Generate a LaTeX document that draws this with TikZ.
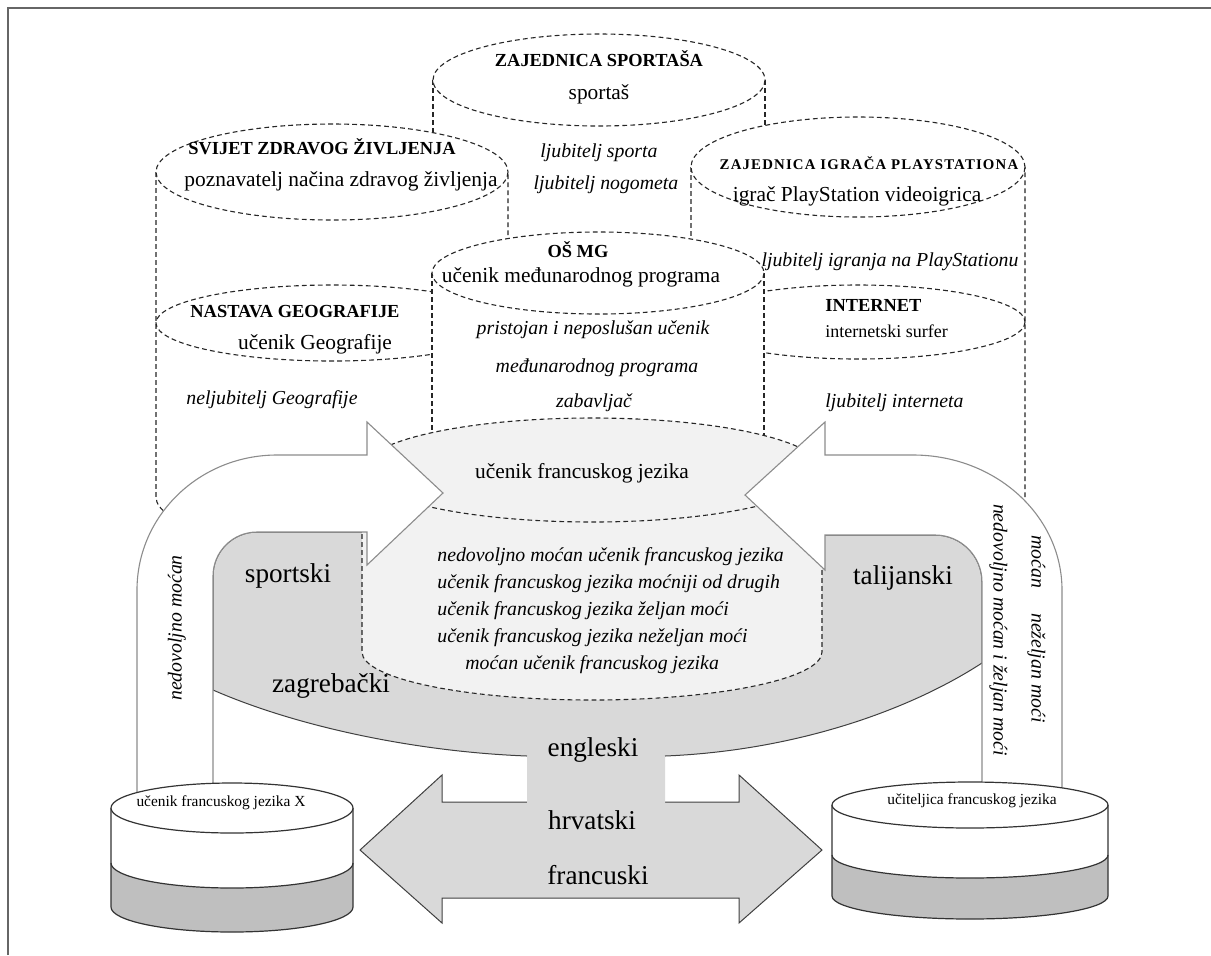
\documentclass[tikz,border=0pt]{standalone}
\usepackage{fontspec}
\setmainfont{Liberation Serif}
\newfontfamily\psfont[LetterSpace=8]{Liberation Serif}
\definecolor{lgray}{HTML}{F2F2F2}
\definecolor{mgray}{HTML}{D9D9D9}
\definecolor{dgray}{HTML}{BFBFBF}
\definecolor{agray}{HTML}{8C8C8C}
\definecolor{sgray}{HTML}{404040}
\begin{document}
\begin{tikzpicture}[x=0.5pt,y=-0.5pt,
  dsh/.style={draw=black!85, line width=0.55pt, dash pattern=on 2.4pt off 1.6pt},
  framec/.style={draw=black!60, line width=0.7pt},
  arrowst/.style={fill=white, draw=agray, line width=0.55pt},
  cylst/.style={draw=black!80, line width=0.6pt},
  txt/.style={inner sep=0pt, text height=0.7em, text depth=0.25em},
  tb/.style={txt, font=\fontsize{9.2}{11}\selectfont\bfseries},
  tr/.style={txt, font=\fontsize{10.7}{13}\selectfont},
  trs/.style={txt, font=\fontsize{9}{11}\selectfont},
  ti/.style={txt, font=\fontsize{9.9}{12}\selectfont\itshape},
  tbig/.style={txt, font=\fontsize{13.6}{16}\selectfont},
  tsmall/.style={txt, font=\fontsize{7.7}{9}\selectfont},
  tps/.style={txt, font={\fontsize{7.4}{9}\psfont\bfseries}}]
\useasboundingbox (0,0) rectangle (1211,955);
% frame
\draw[framec] (8,955) -- (8,8) -- (1211,8);
% top cylinder ZAJEDNICA SPORTASA
\fill[white] (433,80) -- (433,250) -- (765,250) -- (765,80) -- cycle;
\draw[dsh] (433,80) -- (433,250) (765,80) -- (765,250);
\draw[dsh, fill=white] (599,80) ellipse [x radius=166, y radius=46];
% left tall cylinder
\fill[white] (156,172) -- (156,497) arc[start angle=180, end angle=0, x radius=176, y radius=48] -- (508,172) -- cycle;
\draw[dsh] (156,172) -- (156,497) arc[start angle=180, end angle=0, x radius=176, y radius=48] -- (508,172);
\draw[dsh, fill=white] (332,172) ellipse [x radius=176, y radius=48];
\draw[dsh] (332,323) ellipse [x radius=176, y radius=38];
% right tall cylinder
\fill[white] (691,167) -- (691,497) arc[start angle=180, end angle=0, x radius=167, y radius=50] -- (1025,167) -- cycle;
\draw[dsh] (691,167) -- (691,497) arc[start angle=180, end angle=0, x radius=167, y radius=50] -- (1025,167);
\draw[dsh, fill=white] (858,167) ellipse [x radius=167, y radius=50];
\draw[dsh] (858,322) ellipse [x radius=167, y radius=37];
% OS MG cylinder
\fill[white] (432,273) -- (432,480) -- (764,480) -- (764,273) -- cycle;
\draw[dsh] (432,273) -- (432,480) (764,273) -- (764,480);
\draw[dsh, fill=white] (598,273) ellipse [x radius=166, y radius=41];
% double arrow
\draw[fill=mgray, draw=sgray, line width=0.5pt] (360,850) -- (442,775) -- (442,802) -- (739,802) -- (739,775) -- (822,850) -- (739,923) -- (739,898) -- (442,898) -- (442,923) -- cycle;
% gray bowl shape
\fill[mgray] (367,532) -- (257,532) arc[start angle=270, end angle=180, radius=44] -- (213,690) .. controls (300,728) and (420,752) .. (527,756) -- (527,804) -- (665,804) -- (665,756) .. controls (790,751) and (905,713) .. (982,663) -- (982,582) arc[start angle=0, end angle=-90, radius=47] -- (825,535) -- (825,470) -- (360,470) -- (360,532) -- cycle;
\draw[sgray, line width=0.5pt] (367,532) -- (257,532) arc[start angle=270, end angle=180, radius=44] -- (213,690) .. controls (300,728) and (420,752) .. (527,756);
\draw[sgray, line width=0.5pt] (665,756) .. controls (790,751) and (905,713) .. (982,663) -- (982,582) arc[start angle=0, end angle=-90, radius=47] -- (825,535);
% center cylinder
\fill[lgray] (362,470) -- (362,652) arc[start angle=180, end angle=0, x radius=230, y radius=48] -- (822,470) -- cycle;
\draw[dsh] (362,470) -- (362,652) arc[start angle=180, end angle=0, x radius=230, y radius=48] -- (822,470);
\draw[dsh, fill=lgray] (592,470) ellipse [x radius=230, y radius=52];
% curved arrows
\draw[arrowst] (137,800) -- (137,590) arc[start angle=180, end angle=270, x radius=140, y radius=135] -- (367,455) -- (367,422) -- (443,493) -- (367,565) -- (367,532) -- (257,532) arc[start angle=270, end angle=180, radius=44] -- (213,800) -- cycle;
\draw[arrowst] (1062,800) -- (1062,590) arc[start angle=0, end angle=-90, x radius=149, y radius=135] -- (825,455) -- (825,422) -- (745,495) -- (825,570) -- (825,535) -- (935,535) arc[start angle=-90, end angle=0, radius=47] -- (982,800) -- cycle;
% bottom left cylinder
\fill[dgray] (111,863) -- (111,907) arc[start angle=180, end angle=0, x radius=121, y radius=25] -- (353,863) arc[start angle=0, end angle=180, x radius=121, y radius=25] -- cycle;
\fill[white] (111,808) -- (111,863) arc[start angle=180, end angle=0, x radius=121, y radius=25] -- (353,808) -- cycle;
\draw[cylst] (111,808) -- (111,907) arc[start angle=180, end angle=0, x radius=121, y radius=25] -- (353,808);
\draw[cylst] (111,863) arc[start angle=180, end angle=0, x radius=121, y radius=25];
\draw[cylst, fill=white] (232,808) ellipse [x radius=121, y radius=25];
% bottom right cylinder
\fill[dgray] (832,855) -- (832,896) arc[start angle=180, end angle=0, x radius=138, y radius=23] -- (1108,855) arc[start angle=0, end angle=180, x radius=138, y radius=23] -- cycle;
\fill[white] (832,805) -- (832,855) arc[start angle=180, end angle=0, x radius=138, y radius=23] -- (1108,805) -- cycle;
\draw[cylst] (832,805) -- (832,896) arc[start angle=180, end angle=0, x radius=138, y radius=23] -- (1108,805);
\draw[cylst] (832,855) arc[start angle=180, end angle=0, x radius=138, y radius=23];
\draw[cylst, fill=white] (970,805) ellipse [x radius=138, y radius=23];
% texts
\node[tb] (t1) at (599,62) {ZAJEDNICA SPORTAŠA};
\node[tr] (t2) at (599,95) {sportaš};
\node[ti] (t3) at (599,153) {ljubitelj sporta};
\node[ti] (t4) at (606,185) {ljubitelj nogometa};
\node[tb] (t5) at (322,150) {SVIJET ZDRAVOG ŽIVLJENJA};
\node[tr] (t6) at (341,182) {poznavatelj načina zdravog življenja};
\node[tps] (t7) at (869,165) {ZAJEDNICA IGRAČA PLAYSTATIONA};
\node[tr] (t8) at (857,197) {igrač PlayStation videoigrica};
\node[tb] (t9) at (578,253) {OŠ MG};
\node[tr] (t10) at (581,278) {učenik međunarodnog programa};
\node[ti] (t11) at (890,262) {ljubitelj igranja na PlayStationu};
\node[tb] (t12) at (295,313) {NASTAVA GEOGRAFIJE};
\node[tr] (t13) at (315,345) {učenik Geografije};
\node[ti] (t14) at (272,400) {neljubitelj Geografije};
\node[ti] (t15) at (593,330) {pristojan i neposlušan učenik};
\node[ti] (t16) at (597,368) {međunarodnog programa};
\node[ti] (t17) at (594,403) {zabavljač};
\node[tb, anchor=west] (t18) at (825,307) {INTERNET};
\node[trs, anchor=west] (t19) at (825,333) {internetski surfer};
\node[ti, anchor=west] (t20) at (825,403) {ljubitelj interneta};
\node[tr] (t21) at (582,474) {učenik francuskog jezika};
\node[ti, anchor=west] (l1) at (437,557) {nedovoljno moćan učenik francuskog jezika};
\node[ti, anchor=west] (l2) at (437,584) {učenik francuskog jezika moćniji od drugih};
\node[ti, anchor=west] (l3) at (437,611) {učenik francuskog jezika željan moći};
\node[ti, anchor=west] (l4) at (437,638) {učenik francuskog jezika neželjan moći};
\node[ti, anchor=west] (l5) at (465,665) {moćan učenik francuskog jezika};
\node[tbig] (b1) at (288,578) {sportski};
\node[tbig] (b2) at (331,688) {zagrebački};
\node[tbig] (b3) at (903,580) {talijanski};
\node[tbig] (b4) at (593,752) {engleski};
\node[tbig] (b5) at (592,825) {hrvatski};
\node[tbig] (b6) at (598,880) {francuski};
\node[ti, rotate=90] (r1) at (177,628) {nedovoljno moćan};
\node[ti, rotate=-90] (r2) at (998,630) {nedovoljno moćan i željan moći};
\node[ti, rotate=-90] (r3) at (1036,562) {moćan};
\node[ti, rotate=-90] (r4) at (1036,668) {neželjan moći};
\node[tsmall] (s1) at (221,802) {učenik francuskog jezika X};
\node[tsmall] (s2) at (972,800) {učiteljica francuskog jezika};
\end{tikzpicture}
\end{document}
